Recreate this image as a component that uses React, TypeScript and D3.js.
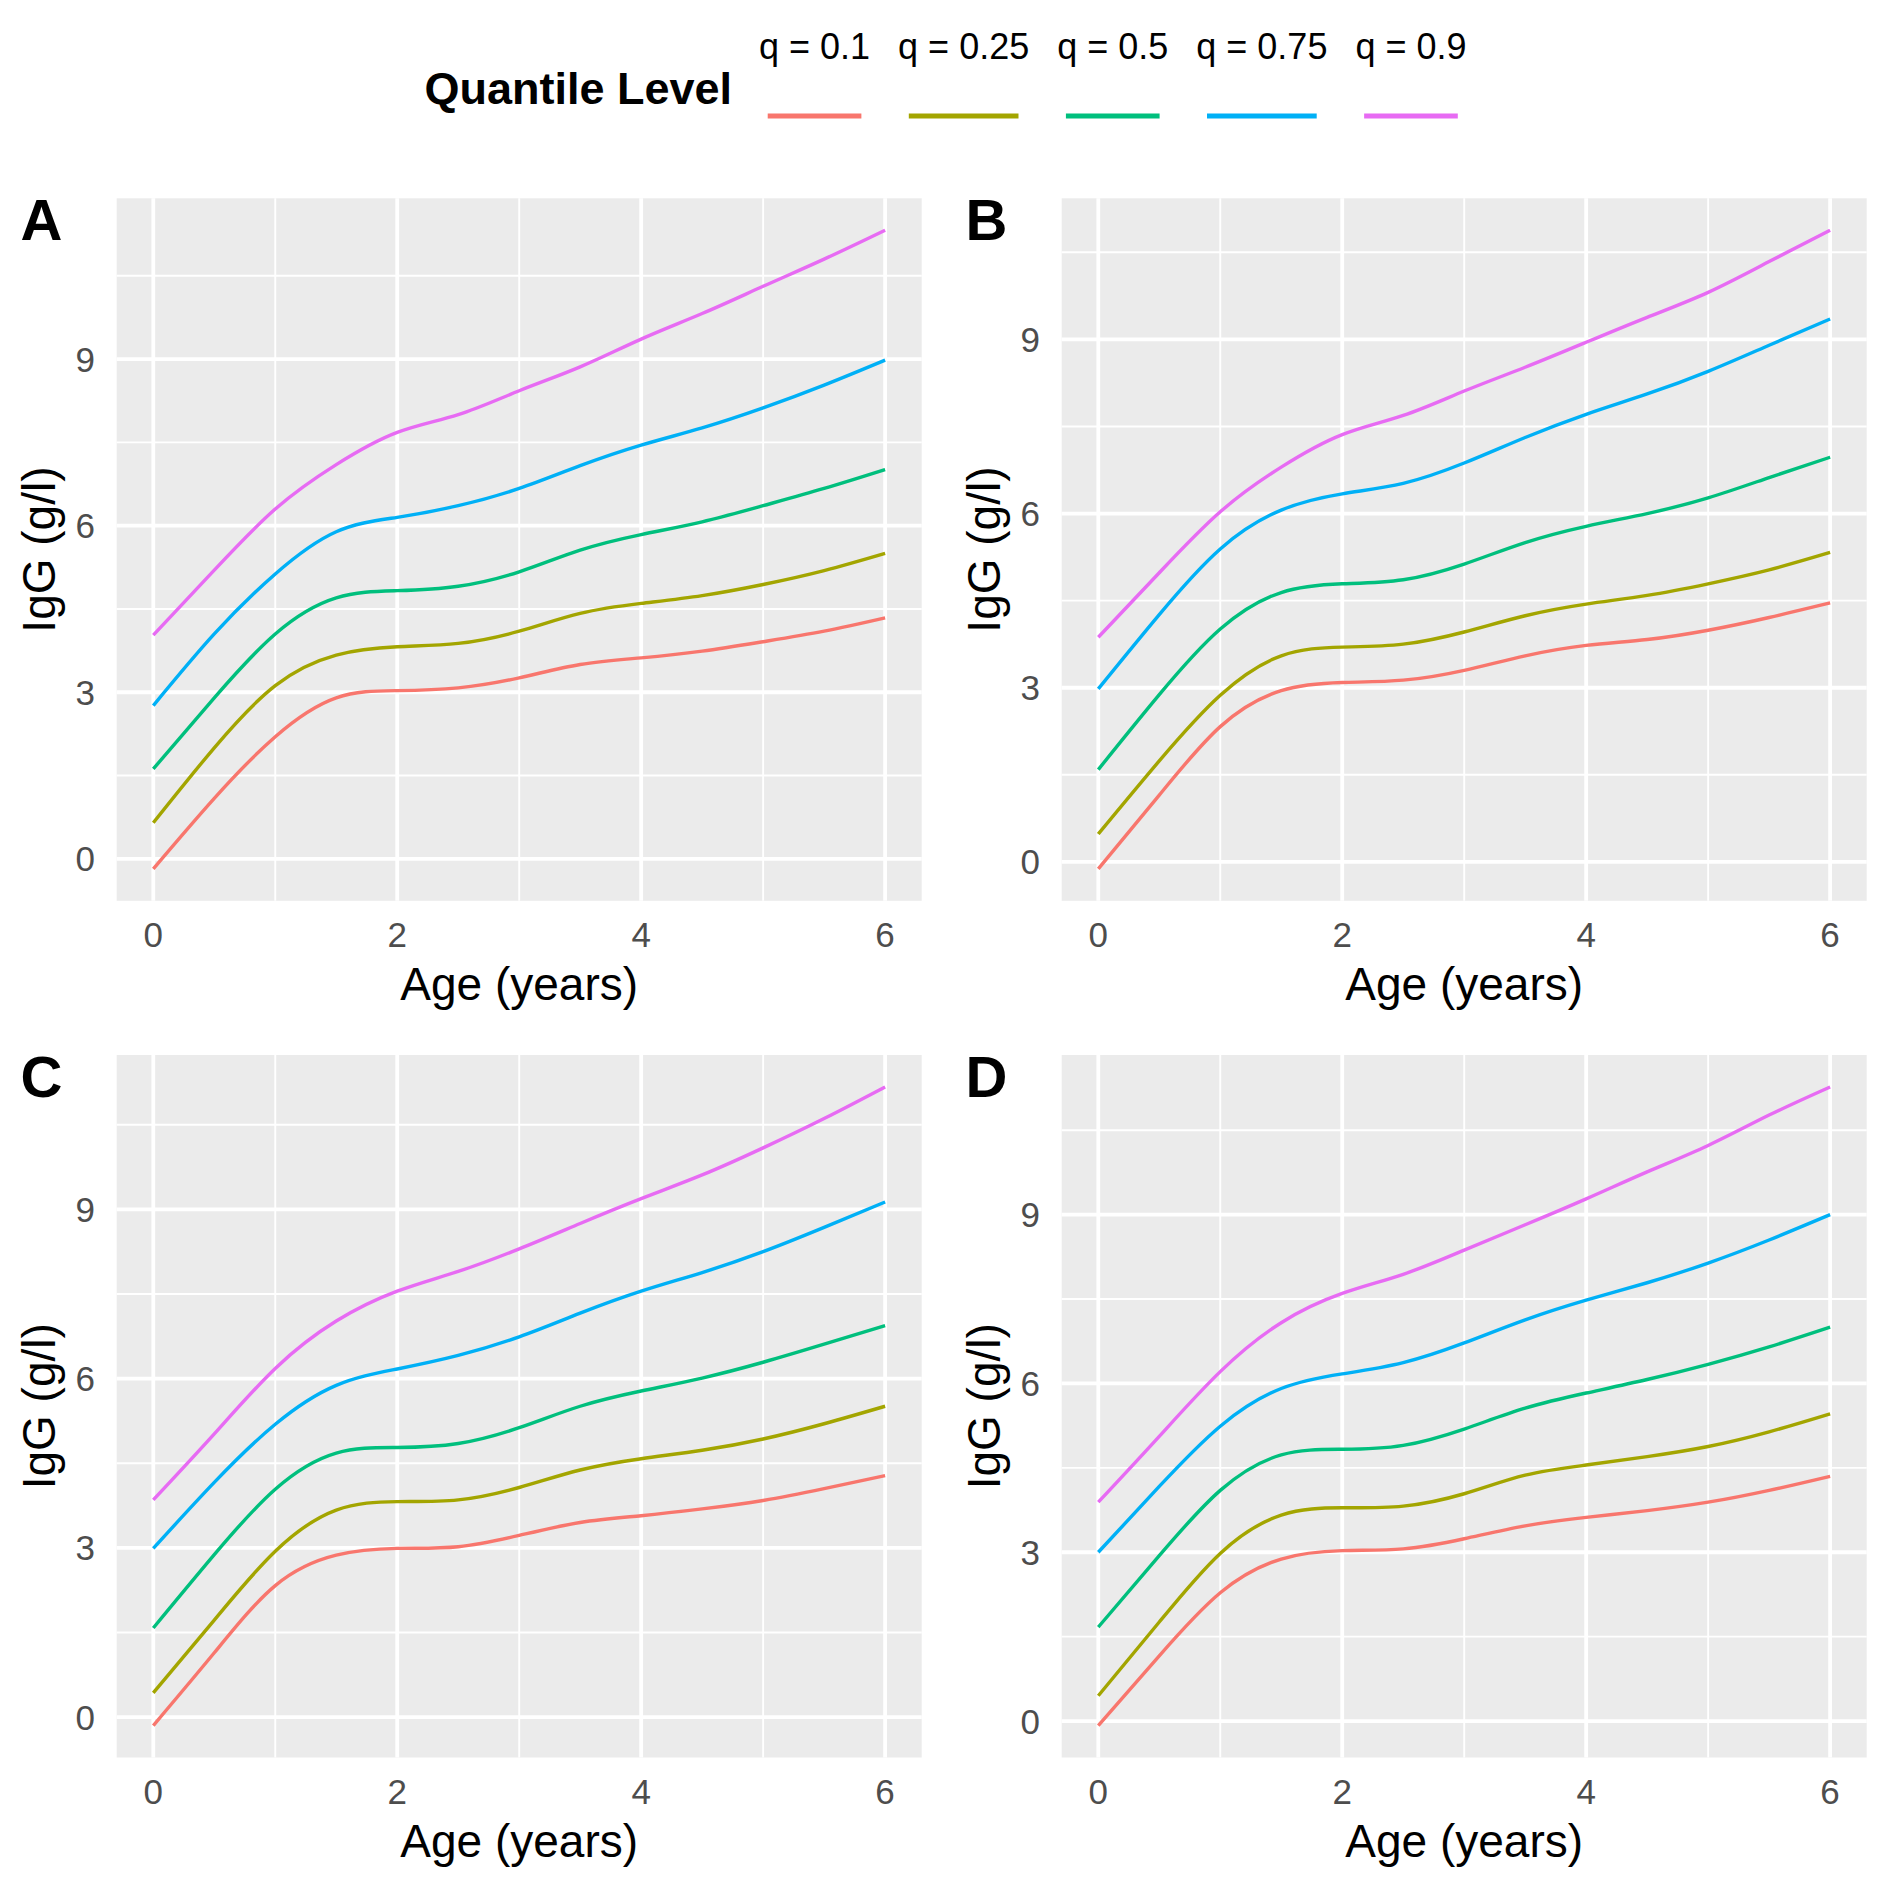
import React from 'react';
import * as d3 from 'd3';

// ages at which the fitted quantile curves were read
const ages = [0, 0.5, 1, 1.5, 2, 2.5, 3, 3.5, 4, 4.5, 5, 5.5, 6];

const quantileLabels = ['q = 0.1', 'q = 0.25', 'q = 0.5', 'q = 0.75', 'q = 0.9'];
const quantileColors = ['#F8766D', '#A3A500', '#00BF7D', '#00B0F6', '#E76BF3'];

const panelLetters = ['A', 'B', 'C', 'D'];

// Panel A
const A_q10 = [-0.18, 1.09, 2.2, 2.9, 3.03, 3.08, 3.26, 3.5, 3.62, 3.74, 3.91, 4.1, 4.34];
const A_q25 = [0.65, 2.0, 3.12, 3.67, 3.82, 3.88, 4.1, 4.42, 4.6, 4.74, 4.94, 5.19, 5.5];
const A_q50 = [1.62, 2.9, 4.05, 4.7, 4.83, 4.91, 5.17, 5.56, 5.84, 6.07, 6.36, 6.67, 7.01];
const A_q75 = [2.76, 4.05, 5.13, 5.89, 6.15, 6.36, 6.67, 7.08, 7.45, 7.76, 8.12, 8.53, 8.98];
const A_q90 = [4.03, 5.2, 6.3, 7.1, 7.68, 8.0, 8.43, 8.86, 9.36, 9.82, 10.31, 10.8, 11.32];

// Panel B
const B_q10 = [-0.12, 1.15, 2.33, 2.95, 3.09, 3.13, 3.3, 3.55, 3.73, 3.83, 3.99, 4.21, 4.46];
const B_q25 = [0.48, 1.74, 2.87, 3.55, 3.7, 3.75, 3.96, 4.24, 4.44, 4.59, 4.79, 5.03, 5.33];
const B_q50 = [1.59, 2.88, 4.01, 4.64, 4.79, 4.86, 5.13, 5.5, 5.78, 6.0, 6.27, 6.62, 6.97];
const B_q75 = [2.98, 4.26, 5.39, 6.06, 6.34, 6.52, 6.87, 7.31, 7.71, 8.06, 8.45, 8.9, 9.35];
const B_q90 = [3.87, 4.98, 6.03, 6.8, 7.36, 7.69, 8.11, 8.52, 8.95, 9.38, 9.81, 10.34, 10.88];

// Panel C
const C_q10 = [-0.15, 1.14, 2.33, 2.87, 2.99, 3.02, 3.22, 3.45, 3.57, 3.69, 3.84, 4.05, 4.28];
const C_q25 = [0.43, 1.72, 2.94, 3.67, 3.82, 3.85, 4.07, 4.38, 4.58, 4.73, 4.93, 5.2, 5.51];
const C_q50 = [1.58, 2.88, 4.04, 4.68, 4.78, 4.85, 5.13, 5.51, 5.78, 6.01, 6.29, 6.61, 6.94];
const C_q75 = [2.99, 4.16, 5.19, 5.88, 6.17, 6.41, 6.74, 7.16, 7.55, 7.88, 8.25, 8.68, 9.13];
const C_q90 = [3.85, 5.02, 6.18, 7.02, 7.55, 7.9, 8.3, 8.75, 9.19, 9.61, 10.09, 10.61, 11.17];

// Panel D
const D_q10 = [-0.08, 1.16, 2.28, 2.88, 3.03, 3.06, 3.24, 3.47, 3.62, 3.74, 3.89, 4.1, 4.35];
const D_q25 = [0.45, 1.76, 2.98, 3.66, 3.79, 3.82, 4.04, 4.37, 4.55, 4.7, 4.88, 5.14, 5.46];
const D_q50 = [1.67, 2.94, 4.1, 4.73, 4.83, 4.9, 5.19, 5.56, 5.83, 6.07, 6.34, 6.65, 7.0];
const D_q75 = [3.0, 4.17, 5.24, 5.91, 6.17, 6.37, 6.72, 7.13, 7.48, 7.79, 8.14, 8.55, 9.0];
const D_q90 = [3.89, 5.06, 6.21, 7.08, 7.6, 7.94, 8.37, 8.82, 9.28, 9.76, 10.23, 10.77, 11.27];

const xMajor = [0, 2, 4, 6];
const xMinor = [1, 3, 5];
const yMajor = [0, 3, 6, 9];
const yMinor = [1.5, 4.5, 7.5, 10.5];

const panels = [
  [A_q10, A_q25, A_q50, A_q75, A_q90],
  [B_q10, B_q25, B_q50, B_q75, B_q90],
  [C_q10, C_q25, C_q50, C_q75, C_q90],
  [D_q10, D_q25, D_q50, D_q75, D_q90],
];

const FONT = '"Liberation Sans", Arial, Helvetica, sans-serif';
const SIZE = 1889;

// layout (pixels)
const colLeft = [116.7, 1061.7];
const rowTop = [198.3, 1055];
const panelW = 805;
const panelH = 702.5;

const measure = (text: string, font: string) => {
  const ctx = document.createElement('canvas').getContext('2d');
  if (!ctx) return text.length * 18;
  ctx.font = font;
  return ctx.measureText(text).width;
};

const Panel: React.FC<{ series: number[][]; letter: string; left: number; top: number }> = ({ series, letter, left, top }) => {
  const x0 = d3.scaleLinear().domain([-0.3, 6.3]).range([0, panelW]);
  const [lo, hi] = d3.extent(series.flat()) as [number, number];
  const pad = (hi - lo) * 0.05;
  const y = d3.scaleLinear().domain([lo - pad, hi + pad]).range([panelH, 0]);

  const line = d3.line<number>()
    .x((_, i) => x0(ages[i]))
    .y(d => y(d))
    .curve(d3.curveNatural);

  const yMin = y.domain()[0];
  const yMax = y.domain()[1];

  return (
    <g transform={`translate(${left},${top})`}>
      <rect x={0} y={0} width={panelW} height={panelH} fill="#EBEBEB" />
      {yMinor.filter(v => v > yMin && v < yMax).map(v => (
        <line key={'ym' + v} x1={0} x2={panelW} y1={y(v)} y2={y(v)} stroke="#fff" strokeWidth={1.9} />
      ))}
      {xMinor.map(v => (
        <line key={'xm' + v} x1={x0(v)} x2={x0(v)} y1={0} y2={panelH} stroke="#fff" strokeWidth={1.9} />
      ))}
      {yMajor.map(v => (
        <line key={'yM' + v} x1={0} x2={panelW} y1={y(v)} y2={y(v)} stroke="#fff" strokeWidth={3.8} />
      ))}
      {xMajor.map(v => (
        <line key={'xM' + v} x1={x0(v)} x2={x0(v)} y1={0} y2={panelH} stroke="#fff" strokeWidth={3.8} />
      ))}
      {series.map((s, i) => (
        <path key={'s' + i} d={line(s) || ''} fill="none" stroke={quantileColors[i]} strokeWidth={3.4} />
      ))}
      {yMajor.map(v => (
        <text key={'yt' + v} x={-21.7} y={y(v) + 12.5} textAnchor="end" fontSize={35} fill="#4D4D4D" fontFamily={FONT}>
          {v}
        </text>
      ))}
      {xMajor.map(v => (
        <text key={'xt' + v} x={x0(v)} y={panelH + 46.5} textAnchor="middle" fontSize={35} fill="#4D4D4D" fontFamily={FONT}>
          {v}
        </text>
      ))}
      <text x={panelW / 2} y={panelH + 99.7} textAnchor="middle" fontSize={46} fill="#000" fontFamily={FONT}>
        Age (years)
      </text>
      <text
        transform={`translate(${-61.5},${panelH / 2}) rotate(-90)`}
        textAnchor="middle"
        fontSize={46}
        fill="#000"
        fontFamily={FONT}
      >
        IgG (g/l)
      </text>
      <text x={-96.2} y={41.7} fontSize={58} fontWeight="bold" fill="#000" fontFamily={FONT}>
        {letter}
      </text>
    </g>
  );
};

const Legend: React.FC = () => {
  const labelFont = `36px ${FONT}`;
  const widths = quantileLabels.map(l => measure(l, labelFont));
  const cells = widths.map(w => w + 6);
  const gap = 22;
  const starts: number[] = [];
  let cur = 756;
  cells.forEach(c => {
    starts.push(cur);
    cur += c + gap;
  });
  return (
    <g>
      <text x={732} y={103.5} textAnchor="end" fontSize={45} fontWeight="bold" fill="#000" fontFamily={FONT}>
        Quantile Level
      </text>
      {quantileLabels.map((l, i) => {
        const cx = starts[i] + cells[i] / 2;
        return (
          <g key={l}>
            <text x={cx} y={58.5} textAnchor="middle" fontSize={36} fill="#000" fontFamily={FONT}>
              {l}
            </text>
            <line
              x1={starts[i] + cells[i] * 0.1}
              x2={starts[i] + cells[i] * 0.9}
              y1={116}
              y2={116}
              stroke={quantileColors[i]}
              strokeWidth={5}
            />
          </g>
        );
      })}
    </g>
  );
};

const App: React.FC = () => {
  return (
    <svg
      width={SIZE}
      height={SIZE}
      viewBox={`0 0 ${SIZE} ${SIZE}`}
      style={{ position: 'absolute', left: 0, top: 0, background: '#fff', display: 'block' }}
    >
      <rect width={SIZE} height={SIZE} fill="#fff" />
      <Legend />
      {panels.map((series, i) => (
        <Panel
          key={panelLetters[i]}
          series={series}
          letter={panelLetters[i]}
          left={colLeft[i % 2]}
          top={rowTop[Math.floor(i / 2)]}
        />
      ))}
    </svg>
  );
};

export default App;
